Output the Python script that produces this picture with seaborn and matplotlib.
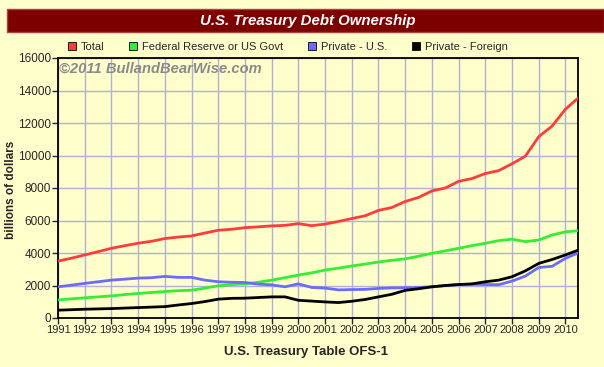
import numpy as np
import pandas as pd
import seaborn as sns
import matplotlib.pyplot as plt
from matplotlib.lines import Line2D
from matplotlib.patches import Rectangle

years = [1991 + 0.5 * i for i in range(40)]

total = [3500, 3680, 3880, 4080, 4290, 4450, 4600, 4720, 4890, 4980,
         5050, 5230, 5400, 5460, 5560, 5610, 5670, 5700, 5810, 5680,
         5780, 5940, 6120, 6290, 6620, 6800, 7170, 7420, 7820, 8000,
         8410, 8580, 8890, 9070, 9490, 9960, 11160, 11810, 12850, 13570]
fed_govt = [1110, 1180, 1240, 1300, 1360, 1440, 1510, 1570, 1630, 1680,
            1710, 1840, 1980, 2060, 2100, 2200, 2330, 2480, 2640, 2780,
            2950, 3070, 3200, 3320, 3445, 3550, 3640, 3800, 3980, 4130,
            4290, 4450, 4600, 4760, 4850, 4700, 4800, 5110, 5300, 5380]
private_us = [1920, 2020, 2130, 2230, 2330, 2390, 2455, 2480, 2560, 2500,
              2500, 2330, 2230, 2200, 2185, 2085, 2040, 1920, 2100, 1880,
              1840, 1730, 1750, 1760, 1820, 1850, 1860, 1880, 1920, 1990,
              2060, 2070, 2060, 2050, 2270, 2580, 3110, 3180, 3670, 4020]
private_foreign = [480, 510, 540, 560, 580, 610, 640, 670, 700, 800,
                   890, 1010, 1160, 1210, 1220, 1260, 1300, 1300, 1090, 1040,
                   990, 950, 1030, 1140, 1300, 1460, 1700, 1800, 1920, 2000,
                   2060, 2100, 2230, 2330, 2540, 2900, 3360, 3600, 3880, 4190]

series = ["Total", "Federal Reserve or US Govt", "Private - U.S.", "Private - Foreign"]
colors = ["#ff3b3b", "#33ee33", "#6b6bff", "#000000"]

df = pd.DataFrame({
    "year": years * 4,
    "value": total + fed_govt + private_us + private_foreign,
    "series": np.repeat(series, len(years)),
})

bg = "#ffffcc"
sns.set_style("ticks", {"axes.facecolor": bg, "figure.facecolor": bg})
plt.rcParams["font.family"] = ["Liberation Sans", "DejaVu Sans"]

fig = plt.figure(figsize=(6.04, 3.67), dpi=100)
ax = fig.add_axes([58 / 604, 49 / 367, 520 / 604, 260 / 367])

sns.lineplot(data=df, x="year", y="value", hue="series", hue_order=series,
             palette=colors, linewidth=2, legend=False, ax=ax, zorder=3)

ax.set_xlim(1991, 2010.47)
ax.set_ylim(0, 16000)
ax.set_xticks(range(1991, 2011))
ax.set_xticklabels([str(y) for y in range(1991, 2011)], fontsize=8)
ax.set_yticks(range(0, 16001, 2000))
ax.tick_params(axis="y", labelsize=8.5, length=4, width=1, pad=1)
ax.tick_params(axis="x", length=4, width=1, pad=1)
ax.grid(True, color="#b0b0dd", linewidth=1, zorder=0)
for sp in ax.spines.values():
    sp.set_visible(True)
    sp.set_color("black")
    sp.set_linewidth(1.3)
ax.set_xlabel("")
ax.set_ylabel("")

# title banner
fig.patches.append(Rectangle((7 / 604, 1 - 32 / 367), 597 / 604, 23 / 367,
                             transform=fig.transFigure, facecolor="#7d0000",
                             edgecolor="#b04040", linewidth=1))
fig.text(0.51, 1 - 20.5 / 367, "U.S. Treasury Debt Ownership", color="white",
         fontsize=10.8, fontweight="bold", fontstyle="italic",
         ha="center", va="center")

# legend
handles = [Line2D([], [], marker="s", linestyle="none", markersize=6,
                  markerfacecolor=c, markeredgecolor="black", markeredgewidth=0.6)
           for c in colors]
fig.legend(handles, series, loc="center left", bbox_to_anchor=(62 / 604, 1 - 47 / 367),
           ncol=4, frameon=False, fontsize=8, handlelength=0.8, handletextpad=0.4,
           columnspacing=2.2, borderpad=0)

ax.text(0.001, 0.958, "\u00a92011 BullandBearWise.com", transform=ax.transAxes,
        color="#8a8a8a", fontsize=10.6, fontweight="bold", fontstyle="italic",
        ha="left", va="center", zorder=5)

fig.text(0.506, 1 - 352 / 367, "U.S. Treasury Table OFS-1", fontsize=9.5,
         fontweight="bold", ha="center", va="center")
fig.text(0.019, 1 - 190 / 367, "billions of dollars", fontsize=8.5,
         fontweight="bold", rotation=90, ha="center", va="center")

fig.savefig("out.png", dpi=100, facecolor=bg)
